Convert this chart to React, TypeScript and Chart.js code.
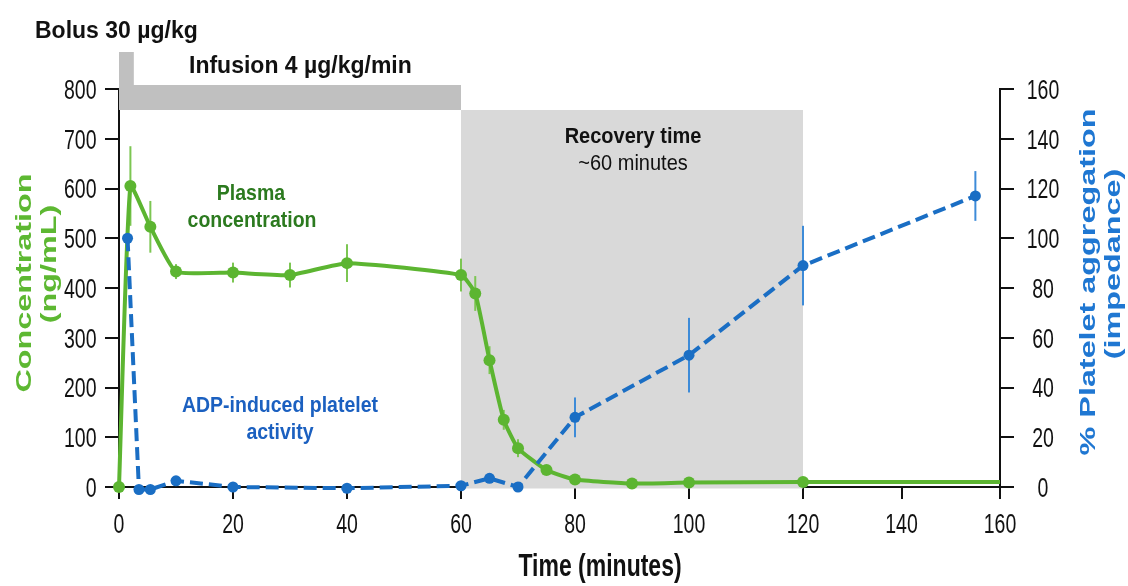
import React, { useEffect, useRef } from 'react';
import { Chart, registerables, LinearScale } from 'chart.js';

// ---------------- data ----------------
// Plasma concentration (ng/mL), left axis
const concTimes = [0, 2, 5.5, 10, 20, 30, 40, 60, 62.5, 65, 67.5, 70, 75, 80, 90, 100, 120, 160];
const concValues = [0, 605, 523, 433, 431, 426, 450, 426, 389, 255, 135, 78, 34, 15, 7, 9, 10, 10];
const concErrors = [0, 80, 52, 15, 20, 25, 38, 33, 35, 28, 20, 18, 0, 0, 0, 0, 0, 0];

// % platelet aggregation (impedance), right axis
const aggTimes = [1.5, 3.5, 5.5, 10, 20, 40, 60, 65, 70, 80, 100, 120, 155];
const aggValues = [100, -1, -1, 2.5, 0, -0.5, 0.5, 3.5, 0, 28, 53, 89, 117];
const aggErrors = [0, 0, 0, 0, 0, 0, 0, 0, 0, 8, 15, 16, 10];

// tick values
const timeTicks = [0, 20, 40, 60, 80, 100, 120, 140, 160];
const concTicks = [0, 100, 200, 300, 400, 500, 600, 700, 800];
const aggTicks = [0, 20, 40, 60, 80, 100, 120, 140, 160];

// dosing / recovery windows (minutes)
const bolusWindow = [0, 2.6];
const infusionWindow = [0, 60];
const recoveryWindow = [60, 120];

// ---------------- styles ----------------
const FONT = "'Liberation Sans', Arial, Helvetica, sans-serif";
const GREEN_LINE = '#5cb531';
const GREEN_ERR = '#7cc652';
const GREEN_TITLE = '#5db832';
const GREEN_TEXT = '#2c7a1f';
const BLUE_LINE = '#1a6ec4';
const BLUE_ERR = '#3d8bd8';
const BLUE_TEXT = '#1b60c0';
const BLUE_TITLE = '#1f77d2';
const DOSE_FILL = '#c0c0c0';
const RECOVERY_FILL = '#d9d9d9';
const AXIS = '#111111';
const TEXT = '#111111';

// the time axis of the figure is compressed after 120 min
const X_KNOT = 120;
const X_KNOT_FRACTION = 0.7764;

class PiecewiseLinearScale extends LinearScale {
  static id = 'piecewiseLinear';
  static defaults = LinearScale.defaults;
  warp(value: number): number {
    const min = (this as any).min;
    const max = (this as any).max;
    const knot = min + X_KNOT_FRACTION * (max - min);
    if (value <= X_KNOT) return min + ((value - min) * (knot - min)) / (X_KNOT - min);
    return knot + ((value - X_KNOT) * (max - knot)) / (max - X_KNOT);
  }
  getPixelForValue(value: number): number {
    if (value === null || value === undefined || Number.isNaN(value)) return NaN;
    return super.getPixelForValue(this.warp(value));
  }
}

Chart.register(...registerables, PiecewiseLinearScale);

type TextOpts = {
  size: number;
  weight?: string;
  color: string;
  align?: CanvasTextAlign;
  rotation?: number;
  stretchY?: number;
};

function drawText(ctx: CanvasRenderingContext2D, text: string, x: number, y: number, o: TextOpts) {
  ctx.save();
  ctx.translate(x, y);
  ctx.scale(1, o.stretchY ?? 1);
  ctx.rotate(o.rotation ?? 0);
  ctx.font = `${o.weight ?? 'normal'} ${o.size}px ${FONT}`;
  ctx.fillStyle = o.color;
  ctx.textAlign = o.align ?? 'center';
  ctx.textBaseline = 'alphabetic';
  ctx.fillText(text, 0, o.size * 0.36);
  ctx.restore();
}

const errorBars = [
  { datasetIndex: 0, errors: aggErrors, color: BLUE_ERR },
  { datasetIndex: 1, errors: concErrors, color: GREEN_ERR },
];

const TICK_SIZE = 19.5;
const TICK_STRETCH = 1.42;
const TITLE_SIZE = 22;
const TITLE_STRETCH = 1.47;

const figurePlugin = {
  id: 'figureDecorations',
  beforeDatasetsDraw(chart: any) {
    const { ctx, chartArea, scales } = chart;
    const x = scales.x;
    const barBottom = chartArea.top + 21;
    ctx.save();
    // recovery window
    const r0 = x.getPixelForValue(recoveryWindow[0]);
    const r1 = x.getPixelForValue(recoveryWindow[1]);
    ctx.fillStyle = RECOVERY_FILL;
    ctx.fillRect(r0, barBottom, r1 - r0, chartArea.bottom + 1.5 - barBottom);
    // infusion bar
    const i0 = x.getPixelForValue(infusionWindow[0]);
    const i1 = x.getPixelForValue(infusionWindow[1]);
    ctx.fillStyle = DOSE_FILL;
    ctx.fillRect(i0, chartArea.top - 4, i1 - i0, barBottom - (chartArea.top - 4));
    // bolus bar
    const b0 = x.getPixelForValue(bolusWindow[0]);
    const b1 = x.getPixelForValue(bolusWindow[1]);
    ctx.fillRect(b0, chartArea.top - 37, b1 - b0, barBottom - (chartArea.top - 37));

    // error bars
    ctx.lineWidth = 2;
    errorBars.forEach(({ datasetIndex, errors, color }) => {
      const meta = chart.getDatasetMeta(datasetIndex);
      const ds = chart.data.datasets[datasetIndex];
      const yScale = chart.scales[meta.yAxisID];
      ctx.strokeStyle = color;
      meta.data.forEach((pt: any, i: number) => {
        const e = errors[i];
        if (!e) return;
        const v = ds.data[i].y;
        ctx.beginPath();
        ctx.moveTo(pt.x, yScale.getPixelForValue(v + e));
        ctx.lineTo(pt.x, yScale.getPixelForValue(v - e));
        ctx.stroke();
      });
    });
    ctx.restore();
  },
  afterDraw(chart: any) {
    const { ctx, scales } = chart;
    const tick = { size: TICK_SIZE, color: TEXT, stretchY: TICK_STRETCH };

    // tick labels
    scales.x.ticks.forEach((t: any, i: number) => {
      drawText(ctx, String(t.value), scales.x.getPixelForTick(i), 523, tick);
    });
    scales.y.ticks.forEach((t: any, i: number) => {
      drawText(ctx, String(t.value), 96.5, scales.y.getPixelForTick(i), { ...tick, align: 'right' });
    });
    scales.y1.ticks.forEach((t: any, i: number) => {
      drawText(ctx, String(t.value), 1043, scales.y1.getPixelForTick(i), tick);
    });

    // axis titles
    const up = -Math.PI / 2;
    const leftTitle = { size: TITLE_SIZE, weight: 'bold', color: GREEN_TITLE, rotation: up, stretchY: TITLE_STRETCH };
    drawText(ctx, 'Concentration', 23, 283, leftTitle);
    drawText(ctx, '(ng/mL)', 48, 264, leftTitle);
    const rightTitle = { size: TITLE_SIZE, weight: 'bold', color: BLUE_TITLE, rotation: up, stretchY: TITLE_STRETCH };
    drawText(ctx, '% Platelet aggregation', 1087, 282, rightTitle);
    drawText(ctx, '(impedance)', 1112, 264, rightTitle);
    drawText(ctx, 'Time (minutes)', 600, 565, { size: 23, weight: 'bold', color: TEXT, stretchY: 1.35 });

    // dosing labels
    drawText(ctx, 'Bolus 30 \u00b5g/kg', 35, 29, { size: 23, weight: 'bold', color: TEXT, align: 'left', stretchY: 1.05 });
    drawText(ctx, 'Infusion 4 \u00b5g/kg/min', 189, 64, { size: 23, weight: 'bold', color: TEXT, align: 'left', stretchY: 1.05 });

    // annotations
    drawText(ctx, 'Recovery time', 633, 135, { size: 20, weight: 'bold', color: TEXT, stretchY: 1.12 });
    drawText(ctx, '~60 minutes', 633, 162, { size: 20, color: TEXT, stretchY: 1.12 });
    drawText(ctx, 'Plasma', 251, 192, { size: 19.5, weight: 'bold', color: GREEN_TEXT, stretchY: 1.12 });
    drawText(ctx, 'concentration', 252, 219, { size: 19.5, weight: 'bold', color: GREEN_TEXT, stretchY: 1.12 });
    drawText(ctx, 'ADP-induced platelet', 280, 404, { size: 19.5, weight: 'bold', color: BLUE_TEXT, stretchY: 1.12 });
    drawText(ctx, 'activity', 280, 431, { size: 19.5, weight: 'bold', color: BLUE_TEXT, stretchY: 1.12 });
  },
};

function axisGrid(tickLength: number) {
  return { drawOnChartArea: false, drawTicks: true, tickLength, color: AXIS, lineWidth: 2 };
}

export default function App() {
  const ref = useRef<HTMLCanvasElement>(null);

  useEffect(() => {
    document.body.style.margin = '0';
    const canvas = ref.current;
    if (!canvas) return;
    const chart = new Chart(canvas, {
      type: 'line',
      data: {
        datasets: [
          {
            label: 'ADP-induced platelet activity',
            data: aggTimes.map((t, i) => ({ x: t, y: aggValues[i] })),
            yAxisID: 'y1',
            borderColor: BLUE_LINE,
            backgroundColor: BLUE_LINE,
            borderWidth: 4,
            borderDash: [13, 6],
            pointRadius: 5.5,
            pointBorderWidth: 0,
            pointBackgroundColor: BLUE_LINE,
            tension: 0,
            clip: false,
          },
          {
            label: 'Plasma concentration',
            data: concTimes.map((t, i) => ({ x: t, y: concValues[i] })),
            yAxisID: 'y',
            borderColor: GREEN_LINE,
            backgroundColor: GREEN_LINE,
            borderWidth: 4,
            pointRadius: (c: any) => (c.dataIndex === concTimes.length - 1 ? 0 : 6),
            pointBorderWidth: 0,
            pointBackgroundColor: GREEN_LINE,
            tension: 0.15,
            clip: false,
          },
        ],
      },
      options: {
        responsive: true,
        maintainAspectRatio: false,
        animation: false,
        events: [],
        layout: { padding: { top: 89, left: 0, right: 0, bottom: 0 } },
        plugins: { legend: { display: false }, tooltip: { enabled: false }, title: { display: false } },
        scales: {
          x: {
            type: 'piecewiseLinear' as any,
            position: 'bottom',
            min: 0,
            max: 160,
            afterBuildTicks: (s: any) => {
              s.ticks = timeTicks.map((v) => ({ value: v }));
            },
            afterFit: (s: any) => {
              s.height = 99;
            },
            ticks: { display: false },
            grid: axisGrid(12),
            border: { display: true, color: AXIS, width: 2 },
          },
          y: {
            type: 'linear',
            position: 'left',
            min: 0,
            max: 800,
            afterBuildTicks: (s: any) => {
              s.ticks = concTicks.map((v) => ({ value: v }));
            },
            afterFit: (s: any) => {
              s.width = 119;
            },
            ticks: { display: false },
            grid: axisGrid(14),
            border: { display: true, color: AXIS, width: 2 },
          },
          y1: {
            type: 'linear',
            position: 'right',
            min: 0,
            max: 160,
            afterBuildTicks: (s: any) => {
              s.ticks = aggTicks.map((v) => ({ value: v }));
            },
            afterFit: (s: any) => {
              s.width = 128;
            },
            ticks: { display: false },
            grid: axisGrid(14),
            border: { display: true, color: AXIS, width: 2 },
          },
        },
      },
      plugins: [figurePlugin],
    } as any);
    return () => chart.destroy();
  }, []);

  return (
    <div style={{ position: 'relative', width: 1128, height: 586 }}>
      <canvas ref={ref} />
    </div>
  );
}
